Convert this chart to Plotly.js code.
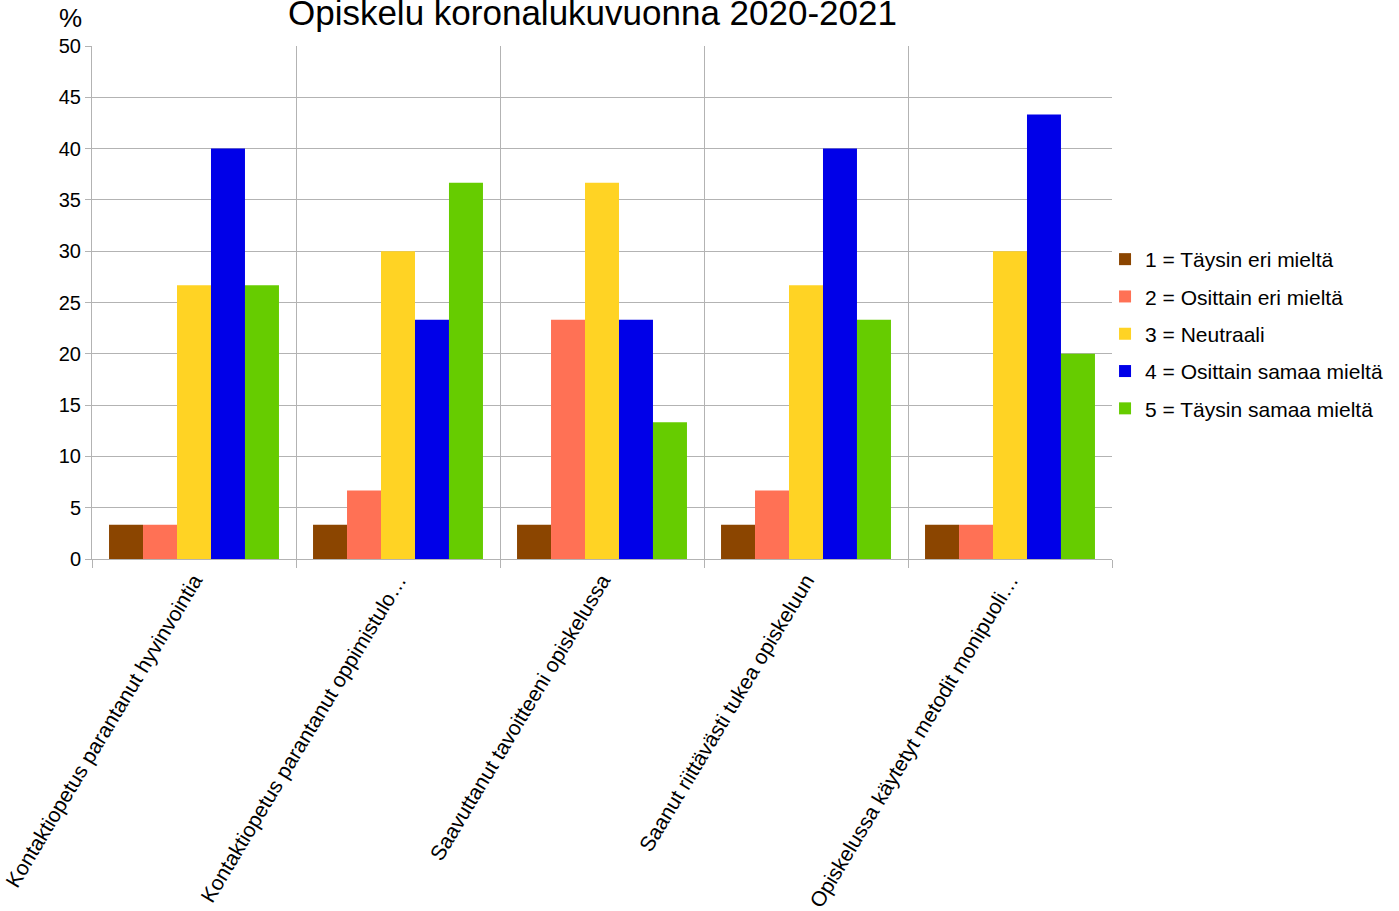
<!DOCTYPE html>
<html>
<head>
<meta charset="utf-8">
<script src="https://cdn.plot.ly/plotly-3.0.1.min.js"></script>
<style>
  html, body { margin: 0; padding: 0; background: #ffffff; }
  #chart { width: 1399px; height: 911px; }
</style>
</head>
<body>
<div id="chart"></div>
<script>
// Survey statements (category axis)
const statements = [
  "Kontaktiopetus parantanut hyvinvointia",
  "Kontaktiopetus parantanut oppimistulo…",
  "Saavuttanut tavoitteeni opiskelussa",
  "Saanut riittävästi tukea opiskeluun",
  "Opiskelussa käytetyt metodit monipuoli…"
];

// Answer scale labels
const answerLabels = [
  "1 = Täysin eri mieltä",
  "2 = Osittain eri mieltä",
  "3 = Neutraali",
  "4 = Osittain samaa mieltä",
  "5 = Täysin samaa mieltä"
];

// Share of answers (%) per scale value, one array per answer option
const taysinEri    = [3.33, 3.33, 3.33, 3.33, 3.33];
const osittainEri  = [3.33, 6.67, 23.33, 6.67, 3.33];
const neutraali    = [26.67, 30.0, 36.67, 26.67, 30.0];
const osittainSama = [40.0, 23.33, 23.33, 40.0, 43.33];
const taysinSama   = [26.67, 36.67, 13.33, 23.33, 20.0];

const seriesValues = [taysinEri, osittainEri, neutraali, osittainSama, taysinSama];
const seriesColors = ["#8b4500", "#ff7155", "#ffd324", "#0000e8", "#66cc00"];

const FONT = "Liberation Sans, Arial, sans-serif";

const traces = seriesValues.map((vals, i) => ({
  type: "bar",
  name: answerLabels[i],
  x: statements,
  y: vals,
  marker: { color: seriesColors[i], line: { width: 0 } },
  legendgroup: "g" + i,
  hoverinfo: "x+y+name"
}));

const layout = {
  width: 1399,
  height: 911,
  paper_bgcolor: "#ffffff",
  plot_bgcolor: "#ffffff",
  font: { family: FONT, color: "#000000", size: 20 },
  margin: { l: 92, r: 286, t: 46, b: 352 },
  barmode: "group",
  bargap: 0.167,
  bargroupgap: 0,
  title: {
    text: "Opiskelu koronalukuvuonna 2020-2021",
    font: { family: FONT, size: 35, color: "#000000" },
    x: 0.4235,
    xanchor: "center",
    y: 0.9865,
    yanchor: "middle",
    yref: "container"
  },
  xaxis: {
    type: "category",
    tickson: "boundaries",
    ticks: "outside",
    ticklen: 8,
    tickcolor: "#b3b3b3",
    showgrid: true,
    gridcolor: "#b3b3b3",
    gridwidth: 1,
    showline: true,
    linecolor: "#b3b3b3",
    tickangle: -59,
    tickfont: { family: FONT, size: 21, color: "#000000" },
    automargin: false
  },
  yaxis: {
    range: [0, 50],
    dtick: 5,
    tick0: 0,
    ticks: "outside",
    ticklen: 6,
    tickcolor: "#b3b3b3",
    showgrid: true,
    gridcolor: "#b3b3b3",
    gridwidth: 1,
    showline: true,
    linecolor: "#b3b3b3",
    zeroline: false,
    tickfont: { family: FONT, size: 20, color: "#000000" },
    automargin: false
  },
  legend: {
    x: 0.9922,
    xanchor: "left",
    y: 0.4386,
    yanchor: "middle",
    font: { family: FONT, size: 21, color: "#000000" },
    traceorder: "grouped",
    tracegroupgap: 7,
    itemwidth: 30,
    bgcolor: "rgba(0,0,0,0)"
  },
  annotations: [{
    text: "%",
    xref: "paper",
    yref: "paper",
    x: -0.0212,
    y: 1.0,
    xanchor: "center",
    yanchor: "bottom",
    yshift: 11,
    showarrow: false,
    font: { family: FONT, size: 26, color: "#000000" }
  }],
  showlegend: true
};

Plotly.newPlot("chart", traces, layout, { displayModeBar: false, staticPlot: true });
</script>
</body>
</html>
